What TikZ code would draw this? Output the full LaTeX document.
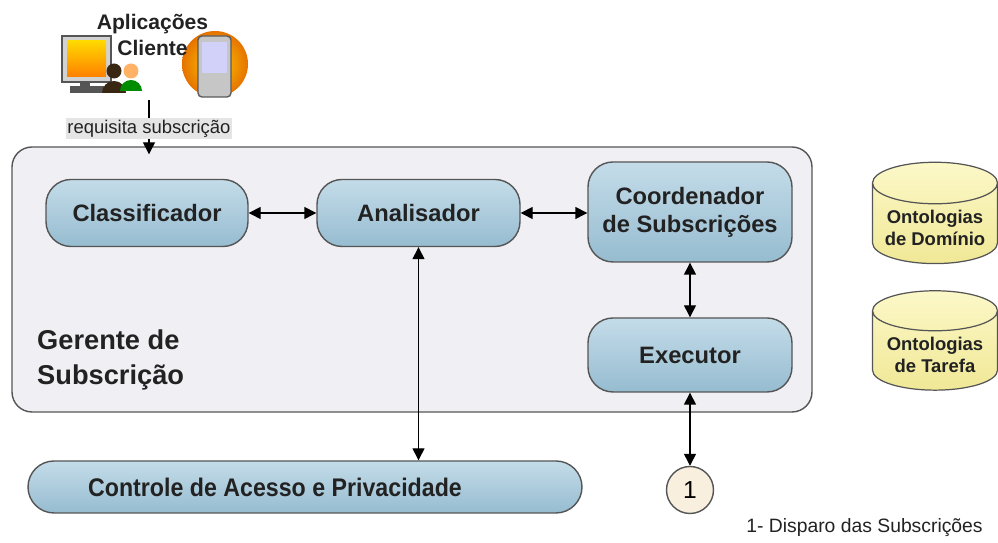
\documentclass[tikz,border=0pt]{standalone}
\usepackage{fontspec}
\setmainfont{Liberation Sans}
\definecolor{ger_fill}{RGB}{240, 239, 243}
\definecolor{ger_line}{RGB}{85, 85, 85}
\definecolor{mod_top}{RGB}{196, 220, 233}
\definecolor{mod_bot}{RGB}{150, 188, 208}
\definecolor{ont_top}{RGB}{252, 248, 200}
\definecolor{ont_bot}{RGB}{240, 232, 150}
\definecolor{disp_fill}{RGB}{248, 239, 222}
\definecolor{txt_dark}{RGB}{34, 34, 34}
\usetikzlibrary{arrows.meta, positioning, shapes.geometric, calc}
\tikzset{
  modulo/.style={draw=ger_line, line width=0.8pt, rounded corners=0.5cm,
    top color=mod_top, bottom color=mod_bot, text=txt_dark,
    font=\fontsize{13.5}{16}\selectfont\bfseries, align=center},
  ontologia/.style={cylinder, shape border rotate=90, aspect=0.37, draw=ger_line,
    line width=0.7pt, top color=ont_top, bottom color=ont_bot, text=txt_dark,
    minimum width=2.5cm, minimum height=1.72cm, align=center,
    font=\fontsize{10.5}{12.5}\selectfont\bfseries},
  seta/.style={{Triangle[length=2.4mm,width=2.4mm]}-{Triangle[length=2.4mm,width=2.4mm]}, line width=0.8pt},
}

\begin{document}
\begin{tikzpicture}
    \useasboundingbox (0,0) rectangle (19.96,10.86);

    % gerente de subscricao
    \node[draw=ger_line, line width=0.8pt, fill=ger_fill, rounded corners=0.4cm,
          minimum width=16.0cm, minimum height=5.3cm] (ger) at (8.24,5.27) {};
    \node[anchor=west, align=left, text=txt_dark, font=\fontsize{15.5}{19.5}\selectfont\bfseries]
          (gertxt) at (0.62,3.66) {Gerente de\\Subscrição};

    \node[modulo, minimum width=4.04cm, minimum height=1.34cm] (cla) at (2.94,6.60) {Classificador};
    \node[modulo, minimum width=4.06cm, minimum height=1.34cm] (ana) at (8.37,6.60) {Analisador};
    \node[modulo, minimum width=4.08cm, minimum height=2.0cm]  (coo) at (13.80,6.62) {Coordenador\\de Subscrições};
    \node[modulo, minimum width=4.08cm, minimum height=1.48cm] (exe) at (13.80,3.76) {Executor};
    \node[modulo, rounded corners=0.52cm, minimum width=11.08cm, minimum height=1.04cm,
          font=\fontsize{14.5}{17}\selectfont\bfseries] (ctl) at (6.10,1.12)
          {\scalebox{0.91}[1]{Controle de Acesso e Privacidade}\hspace*{1.2cm}};

    \node[circle, draw=ger_line, line width=0.8pt, fill=disp_fill, minimum size=0.94cm,
          font=\fontsize{14}{16}\selectfont] (disp) at (13.80,1.06) {1};
    \node[text=txt_dark, font=\fontsize{11}{13}\selectfont] (leg) at (17.29,0.30) {1- Disparo das Subscrições};

    \node[ontologia] (ontd) at (18.70,6.30) {Ontologias\\de Domínio};
    \node[ontologia] (ontt) at (18.70,3.76) {Ontologias\\de Tarefa};

    % aplicacoes cliente (icones)
    \fill[ger_line] (1.40,9.00) rectangle (2.08,9.14);
    \fill[ger_line] (1.60,9.12) rectangle (1.80,9.24);
    \draw[ger_line, line width=0.8pt, fill=gray!35] (1.24,9.22) rectangle (2.22,10.14);
    \shade[top color=yellow!70!orange, bottom color=orange] (1.34,9.32) rectangle (2.12,10.04);
    \fill[black!70!brown] (2.04,9.00) arc (180:0:0.24) -- cycle;
    \fill[black!70!brown] (2.28,9.44) circle (0.15);
    \fill[green!55!black] (2.40,9.04) arc (180:0:0.22) -- cycle;
    \fill[orange!60] (2.62,9.44) circle (0.15);
    \shade[inner color=yellow!60!orange, outer color=orange!90!black] (4.30,9.58) circle (0.66);
    \draw[gray!70!black, line width=0.8pt, fill=gray!45, rounded corners=0.08cm] (3.96,8.92) rectangle (4.62,10.14);
    \fill[gray!20!blue!20] (4.04,9.40) rectangle (4.54,10.02);
    \node[align=center, text=txt_dark, font=\fontsize{12}{14.5}\selectfont\bfseries]
          (cli) at (3.05,10.16) {Aplicações\\Cliente};

    \coordinate (req) at (2.98,8.86);
    \draw[-{Triangle[length=2.4mm,width=2.4mm]}, line width=0.8pt, shorten >=-0.16cm]
          (req) -- (req |- ger.north)
          node[pos=0.62, fill=gray!20, inner sep=1pt, text=txt_dark, font=\fontsize{10.5}{12}\selectfont] (reqtxt) {requisita subscrição};

    % conexoes
    \draw[seta] (cla) -- (ana);
    \draw[seta] (ana) -- (coo.west |- ana);
    \draw[seta] (coo) -- (exe);
    \draw[seta] (ana) -- (ana |- ctl.north);
    \draw[seta] (exe) -- (disp);
\end{tikzpicture}
\end{document}
